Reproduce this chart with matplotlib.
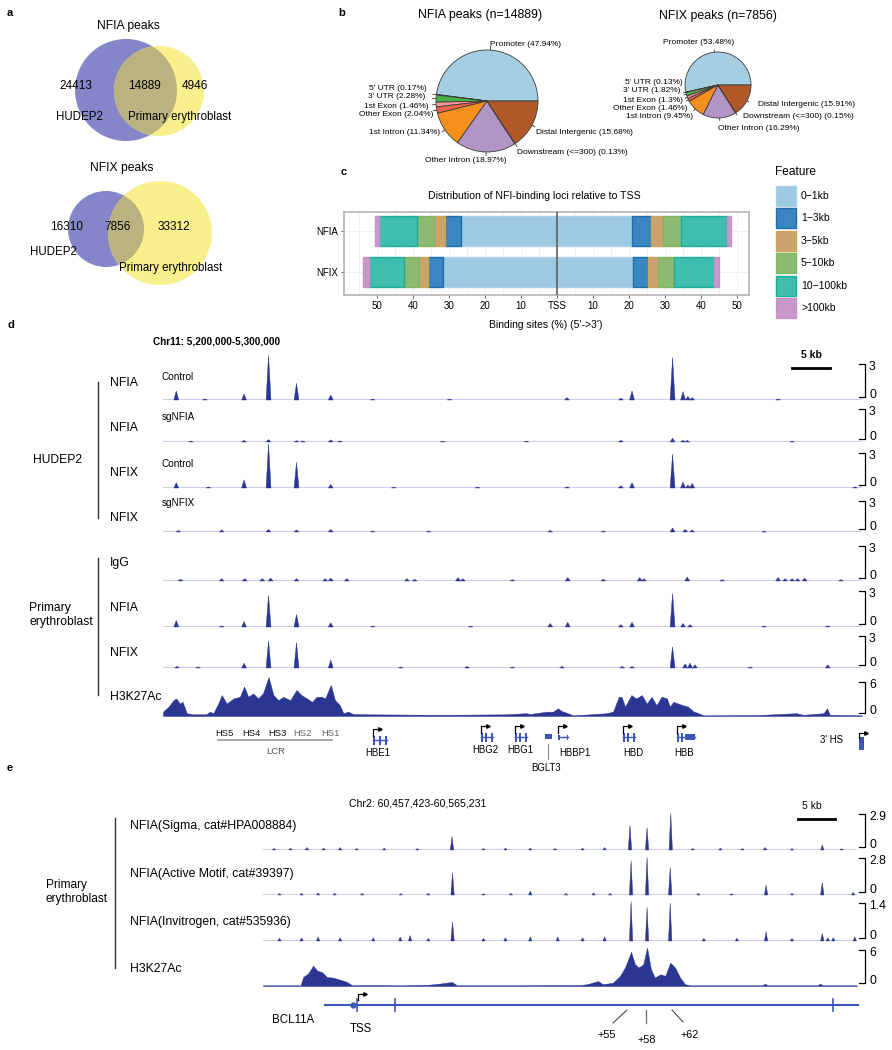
import numpy as np
import matplotlib
matplotlib.use('Agg')
import matplotlib.pyplot as plt
from matplotlib.patches import Circle, Rectangle

plt.rcParams['font.family'] = ['Liberation Sans', 'DejaVu Sans']

W, H = 892, 1050

# ---------------- data ----------------
# a: venn counts (HUDEP2 only, shared, primary only)
venn_sets = ['HUDEP2', 'Primary erythroblast']
nfia_venn = [24413, 14889, 4946]
nfix_venn = [16310, 7856, 33312]

# b: peak annotation (%)
anno_features = ['Promoter', "5' UTR", "3' UTR", '1st Exon', 'Other Exon',
                 '1st Intron', 'Other Intron', 'Downstream (<=300)', 'Distal Intergenic']
nfia_anno = [47.94, 0.17, 2.28, 1.46, 2.04, 11.34, 18.97, 0.13, 15.68]
nfix_anno = [53.48, 0.13, 1.82, 1.3, 1.46, 9.45, 16.29, 0.15, 15.91]
nfia_n = 14889
nfix_n = 7856

# c: distance to TSS (% of binding sites)
tss_bins = ['0\u22121kb', '1\u22123kb', '3\u22125kb', '5\u221210kb', '10\u2212100kb', '>100kb']
tss_groups = ['NFIA', 'NFIX']
nfia_up = [26.7, 4.5, 2.9, 4.7, 10.8, 1.0]
nfia_down = [20.8, 5.3, 3.3, 4.9, 12.8, 1.2]
nfix_up = [31.7, 4.1, 2.5, 4.3, 9.7, 1.6]
nfix_down = [21.1, 4.2, 2.8, 4.3, 11.1, 1.5]

# d: chr11 5,200,000-5,300,000 (kb from start), peak summits and heights
d_span = 100.0
hd_nfia_ctrl_pos = [1.9, 6.0, 11.6, 15.1, 19.1, 24.0, 30.0, 41.0, 57.8, 65.5, 67.1, 72.9, 74.4, 75.1, 75.7, 88.0]
hd_nfia_ctrl_h = [0.75, 0.08, 0.5, 3.75, 1.4, 0.4, 0.08, 0.08, 0.2, 0.15, 0.75, 3.55, 0.7, 0.3, 0.2, 0.08]
hd_nfia_sg_pos = [4.0, 11.6, 15.1, 19.1, 20.0, 24.0, 25.3, 40.0, 52.0, 65.5, 72.9, 74.4, 75.0, 90.0]
hd_nfia_sg_h = [0.08, 0.15, 0.22, 0.12, 0.1, 0.2, 0.1, 0.08, 0.08, 0.15, 0.36, 0.15, 0.15, 0.08]
hd_nfix_ctrl_pos = [1.9, 6.5, 11.6, 15.1, 19.1, 24.0, 33.0, 45.0, 57.8, 65.5, 67.1, 72.9, 74.4, 75.1, 75.7, 99.0]
hd_nfix_ctrl_h = [0.45, 0.1, 0.7, 3.8, 2.2, 0.3, 0.08, 0.08, 0.1, 0.2, 0.45, 2.9, 0.5, 0.25, 0.4, 0.1]
hd_nfix_sg_pos = [2.2, 8.4, 15.1, 19.1, 24.0, 30.0, 38.0, 55.4, 63.0, 72.9, 74.7, 75.7, 86.0]
hd_nfix_sg_h = [0.15, 0.2, 0.25, 0.2, 0.25, 0.1, 0.1, 0.15, 0.1, 0.4, 0.25, 0.2, 0.08]
pe_igg_pos = [2.5, 8.4, 11.7, 14.2, 15.4, 19.1, 23.2, 24.0, 26.3, 34.9, 36.0, 42.2, 42.9, 50.0,
              57.9, 63.0, 68.2, 68.8, 75.0, 80.0, 88.0, 89.0, 90.0, 90.8, 91.8, 97.0]
pe_igg_h = [0.15, 0.2, 0.2, 0.2, 0.25, 0.2, 0.2, 0.25, 0.2, 0.2, 0.15, 0.3, 0.2, 0.12,
            0.3, 0.15, 0.3, 0.2, 0.35, 0.12, 0.3, 0.2, 0.2, 0.2, 0.25, 0.12]
pe_nfia_pos = [1.9, 8.4, 11.6, 15.1, 19.1, 24.0, 30.0, 44.0, 55.4, 57.9, 65.5, 67.1, 72.9, 74.4, 75.4, 86.0, 95.1]
pe_nfia_h = [0.55, 0.1, 0.45, 2.65, 1.05, 0.35, 0.08, 0.08, 0.3, 0.4, 0.2, 0.4, 2.8, 0.3, 0.2, 0.08, 0.1]
pe_nfix_pos = [2.0, 5.0, 11.6, 15.1, 19.1, 24.0, 34.0, 43.5, 50.0, 57.1, 65.7, 67.1, 72.9, 74.7, 75.4, 76.1, 84.0, 95.1]
pe_nfix_h = [0.15, 0.1, 0.45, 2.55, 2.4, 0.75, 0.1, 0.15, 0.1, 0.15, 0.15, 0.15, 2.0, 0.4, 0.45, 0.3, 0.1, 0.3]
pe_h3_kb = [0.0, 0.8, 1.5, 1.9, 2.4, 2.8, 3.4, 4.3, 6.2, 6.7, 7.2, 7.9, 8.4, 9.1, 10.1, 11.0, 11.6, 12.2,
            12.9, 13.6, 14.3, 15.1, 15.8, 16.5, 17.2, 18.2, 19.1, 19.8, 20.6, 21.3, 22.0, 22.7, 23.2, 24.0,
            24.6, 25.3, 25.8, 26.5, 27.2, 29.1, 40.0, 49.2, 52.0, 52.5, 53.9, 54.9, 55.8, 56.5, 57.0, 57.7,
            58.7, 61.1, 63.5, 64.4, 65.2, 65.6, 66.1, 67.0, 67.7, 68.5, 69.2, 69.9, 70.6, 71.3, 72.1, 72.5,
            73.0, 73.7, 74.4, 75.1, 75.9, 76.6, 77.3, 85.0, 90.6, 91.6, 94.5, 95.0, 95.4, 100.0]
pe_h3_val = [0.77, 1.65, 2.8, 3.1, 2.2, 2.5, 0.5, 0.3, 0.3, 0.77, 0.5, 2.2, 3.7, 2.2, 3.1, 3.4, 5.2, 3.4,
             4.0, 3.1, 4.0, 6.9, 3.7, 2.8, 3.4, 2.8, 4.6, 3.7, 3.1, 2.5, 3.4, 3.4, 3.1, 5.5,
             2.8, 1.9, 0.5, 0.77, 0.35, 0.3, 0.2, 0.3, 0.5, 0.35, 0.6, 0.77, 0.77, 1.35, 0.9, 0.6,
             0.1, 0.3, 0.5, 0.8, 3.4, 3.4, 1.65, 3.7, 3.1, 3.7, 2.2, 3.4, 1.9, 3.4, 3.1, 1.65,
             2.5, 2.2, 1.9, 1.65, 0.8, 0.5, 0.1, 0.15, 0.5, 0.2, 0.5, 1.35, 0.2, 0.1]

# e: chr2 60,457,423-60,565,231 (kb from start)
e_span = 107.8
e_sigma_pos = [2.0, 5.0, 8.0, 11.0, 14.0, 17.0, 22.0, 28.0, 34.3, 40.0, 44.0, 48.5, 53.0, 58.0, 62.0,
               66.6, 69.7, 74.0, 78.0, 83.0, 87.0, 91.1, 96.0, 101.5, 105.0]
e_sigma_h = [0.12, 0.15, 0.2, 0.15, 0.2, 0.12, 0.15, 0.12, 1.1, 0.12, 0.15, 0.15, 0.12, 0.15, 0.2,
             2.0, 1.8, 2.95, 0.12, 0.15, 0.12, 0.2, 0.12, 0.4, 0.1]
e_am_pos = [3.0, 7.0, 10.0, 13.0, 18.0, 25.0, 30.0, 34.4, 40.0, 45.0, 48.5, 55.0, 60.0, 63.0,
            66.8, 69.7, 73.9, 79.0, 85.0, 91.3, 96.0, 101.5, 107.1]
e_am_h = [0.1, 0.12, 0.15, 0.12, 0.12, 0.1, 0.12, 1.7, 0.1, 0.12, 0.3, 0.12, 0.15, 0.12,
          2.6, 2.85, 2.1, 0.12, 0.1, 0.75, 0.12, 0.95, 0.2]
e_inv_pos = [3.0, 7.0, 10.0, 14.0, 20.0, 24.9, 26.7, 30.0, 34.4, 40.0, 44.0, 48.5, 53.5, 58.0, 62.0,
             66.8, 69.7, 73.9, 80.0, 86.0, 91.3, 96.0, 101.5, 102.5, 103.5, 107.4]
e_inv_h = [0.1, 0.12, 0.15, 0.12, 0.12, 0.15, 0.2, 0.1, 0.71, 0.1, 0.12, 0.15, 0.15, 0.12, 0.15,
           1.46, 1.24, 1.4, 0.1, 0.1, 0.34, 0.1, 0.28, 0.12, 0.12, 0.15]
e_h3_kb = [0.0, 6.8, 7.3, 8.2, 9.1, 9.8, 10.7, 11.6, 12.7, 14.0, 15.2, 16.2, 18.9, 25.0, 30.0, 32.1,
           34.3, 35.2, 44.3, 57.5, 58.8, 60.8, 61.7, 63.5, 64.8, 65.7, 66.8, 67.5, 68.2, 69.0, 69.7,
           70.4, 71.1, 72.1, 73.0, 73.9, 74.8, 75.7, 76.6, 77.5, 90.6, 91.1, 91.6, 100.6, 101.1, 101.6, 107.8]
e_h3_val = [0.1, 0.1, 1.5, 2.1, 3.4, 2.6, 2.3, 1.5, 1.4, 1.05, 0.7, 0.1, 0.15, 0.1, 0.2, 0.4,
            0.67, 0.1, 0.1, 0.15, 0.3, 0.83, 0.3, 0.55, 1.7, 3.1, 5.7, 3.6, 3.1, 3.6, 6.4,
            2.8, 1.4, 1.95, 1.7, 3.9, 3.05, 1.4, 0.3, 0.1, 0.1, 0.4, 0.1, 0.1, 0.4, 0.1, 0.1]

# ---------------- styles ----------------
NAVY = '#2b3592'
BASE = '#cfd0ec'
GENE = '#3c55b8'
PIE_COLS = ['#a6cee3', '#1f78b4', '#4aae47', '#fb9a99', '#ec6449', '#f7901e', '#b294c7', '#6a3d9a', '#b15928']
BIN_FC = ['#9ecae1', '#3a86c0', '#c9a46c', '#8cba72', '#40bfae', '#c898c8']
BIN_EC = ['#a9d0e6', '#1f6fb0', '#d0a458', '#80b660', '#1fae9a', '#c890c8']

fig = plt.figure(figsize=(W / 100, H / 100), dpi=100)
ov = fig.add_axes([0, 0, 1, 1])
ov.set_xlim(0, W)
ov.set_ylim(H, 0)
ov.axis('off')


def box(x0, y0, x1, y1):
    return fig.add_axes([x0 / W, 1 - y1 / H, (x1 - x0) / W, (y1 - y0) / H])


def t(x, y, s, size=8, ha='left', va='center', **kw):
    ov.text(x, y, s, fontsize=size, ha=ha, va=va, **kw)


# panel letters
for lab, x, y in [('a', 7, 13), ('b', 338, 13), ('c', 341, 172), ('d', 7, 325), ('e', 7, 768)]:
    t(x, y, lab, size=8, weight='bold')

# ---------------- a: venn ----------------
def venn(c1, r1, c2, r2):
    p1 = Circle(c1, r1, fc='#8586c9', ec='none')
    p2 = Circle(c2, r2, fc='#f8f08d', ec='none')
    ov.add_patch(p1)
    ov.add_patch(p2)
    p3 = Circle(c1, r1, fc='#bab37f', ec='none')
    ov.add_patch(p3)
    p3.set_clip_path(p2)


venn((126, 90), 51, (159, 91), 45)
t(128, 26, 'NFIA peaks', size=8.7, ha='center')
for v, x in zip(nfia_venn, [76, 144, 195]):
    t(x, 86, str(v), size=8.5, ha='center')
t(79, 117, venn_sets[0], size=8.3, ha='center')
t(128, 117, venn_sets[1], size=8.3)

venn((106, 229), 38, (160, 233), 52)
t(122, 168, 'NFIX peaks', size=8.7, ha='center')
for v, x in zip(nfix_venn, [67, 118, 174]):
    t(x, 227, str(v), size=8.5, ha='center')
t(53, 252, venn_sets[0], size=8.3, ha='center')
t(119, 268, venn_sets[1], size=8.3)

# ---------------- b: pies ----------------
def pie(cx, cy, r, vals, spots):
    m = 1.08
    ax = box(cx - r * m, cy - r * m, cx + r * m, cy + r * m)
    ax.pie(vals, colors=PIE_COLS, startangle=0, counterclock=True,
           wedgeprops=dict(ec='#3a3a3a', lw=0.6))
    ax.set_xlim(-m, m)
    ax.set_ylim(-m, m)
    ax.set_aspect('equal')
    cum = np.cumsum(vals) - np.array(vals) / 2
    for name, v, c, (x, y, ha) in zip(anno_features, vals, cum, spots):
        th = 2 * np.pi * c / 100
        ov.plot([cx + r * np.cos(th), cx + 1.07 * r * np.cos(th)],
                [cy - r * np.sin(th), cy - 1.07 * r * np.sin(th)], color='#333333', lw=0.6)
        t(x, y, f'{name} ({v:g}%)', size=6, ha=ha)


pie(487, 101, 51, nfia_anno,
    [(490, 44, 'left'), (427, 89, 'right'), (425, 96, 'right'), (429, 107, 'right'),
     (433, 114, 'right'), (440, 132, 'right'), (466, 160, 'center'), (517, 153, 'left'),
     (536, 132, 'left')])
t(480, 15, f'NFIA peaks (n={nfia_n})', size=8.9, ha='center')

pie(718, 85, 33, nfix_anno,
    [(663, 43, 'left'), (683, 83, 'right'), (680, 91, 'right'), (683, 100, 'right'),
     (687, 108, 'right'), (693, 117, 'right'), (718, 128, 'left'), (743, 117, 'left'),
     (758, 104, 'left')])
t(718, 16, f'NFIX peaks (n={nfix_n})', size=8.9, ha='center')

# ---------------- c: distance to TSS ----------------
axc = box(344, 212, 749, 295)
ypos = {'NFIA': 2, 'NFIX': 1}
for g, up, down in [('NFIA', nfia_up, nfia_down), ('NFIX', nfix_up, nfix_down)]:
    up_left = np.concatenate([[0], np.cumsum(up)[:-1]])
    down_left = np.concatenate([[0], np.cumsum(down)[:-1]])
    for i in range(len(tss_bins)):
        axc.barh(ypos[g], -up[i], left=-up_left[i], height=0.72, color=BIN_FC[i],
                 edgecolor=BIN_EC[i], lw=1.0, zorder=3)
        axc.barh(ypos[g], down[i], left=down_left[i], height=0.72, color=BIN_FC[i],
                 edgecolor=BIN_EC[i], lw=1.0, zorder=3)
axc.axvline(0, color='#555555', lw=1.1, zorder=4)
axc.set_xlim(-59.2, 53.3)
axc.set_ylim(0.44, 2.46)
ticks = [-50, -40, -30, -20, -10, 0, 10, 20, 30, 40, 50]
axc.set_xticks(ticks, [str(abs(v)) if v else 'TSS' for v in ticks])
axc.set_xticks([-55, -45, -35, -25, -15, -5, 5, 15, 25, 35, 45], minor=True)
axc.set_yticks([ypos[g] for g in tss_groups], tss_groups)
axc.tick_params(labelsize=7, length=2.5, width=0.6, color='#444444', pad=2)
axc.tick_params(which='minor', length=0)
axc.grid(True, which='both', color='#eeeeee', lw=0.6)
axc.set_axisbelow(True)
for s in axc.spines.values():
    s.set_color('#b5b5b5')
    s.set_linewidth(1.2)
t(534, 196, 'Distribution of NFI-binding loci relative to TSS', size=7.6, ha='center')
t(546, 325, "Binding sites (%) (5'->3')", size=7.5, ha='center')
t(775, 172, 'Feature', size=8.6)
for i, lab in enumerate(tss_bins):
    cy = 196 + i * 22.4
    ov.add_patch(Rectangle((776, cy - 10), 20, 20, fc=BIN_FC[i], ec=BIN_EC[i], lw=1.0))
    t(801, cy, lab, size=7.5)

# ---------------- tracks ----------------
def track(x0, x1, top, base, span, ymax, lab, pos=None, hgt=None, kb=None, val=None, half=0.35):
    ax = box(x0, top, x1, base)
    ax.set_xlim(0, span)
    ax.set_ylim(0, ymax)
    ax.axis('off')
    ax.axhline(0, color=BASE, lw=1.6, zorder=1)
    if pos is not None:
        for p, h in zip(pos, hgt):
            ax.fill([p - half, p, p + half], [0, h, 0], color=NAVY, lw=0.3, clip_on=False, zorder=2)
    if kb is not None:
        ax.fill_between(kb, val, color=NAVY, lw=0.3, clip_on=False, zorder=2)
    ov.plot([859, 865, 865, 859], [top, top, base - 3, base - 3], color='k', lw=0.9)
    t(869, top + 3, lab, size=8.8)
    t(869, base - 5, '0', size=8.8)


# panel d
d_rows = [
    (364, 400, 3, hd_nfia_ctrl_pos, hd_nfia_ctrl_h, None, None),
    (409, 442, 3, hd_nfia_sg_pos, hd_nfia_sg_h, None, None),
    (453, 488, 3, hd_nfix_ctrl_pos, hd_nfix_ctrl_h, None, None),
    (501, 532, 3, hd_nfix_sg_pos, hd_nfix_sg_h, None, None),
    (546, 581, 3, pe_igg_pos, pe_igg_h, None, None),
    (591, 627, 3, pe_nfia_pos, pe_nfia_h, None, None),
    (636, 668, 3, pe_nfix_pos, pe_nfix_h, None, None),
    (682, 716, 6, None, None, pe_h3_kb, pe_h3_val),
]
for top, base, ym, p, h, kx, kv in d_rows:
    track(163, 862, top, base, d_span, ym, str(ym), p, h, kx, kv)

t(153, 342, 'Chr11: 5,200,000-5,300,000', size=7.2, weight='bold')
ov.plot([792, 830], [368, 368], color='k', lw=2)
t(811, 355, '5 kb', size=7.5, ha='center', weight='bold')
for s, y in [('NFIA', 383), ('NFIA', 428), ('NFIX', 473), ('NFIX', 518),
             ('IgG', 563), ('NFIA', 608), ('NFIX', 653), ('H3K27Ac', 697)]:
    t(110, y, s, size=8.8)
for s, y in [('Control', 377), ('sgNFIA', 417), ('Control', 464), ('sgNFIX', 503)]:
    t(162, y, s, size=7.2)
ov.plot([98, 98], [382, 518], color='#333333', lw=1)
ov.plot([98, 98], [558, 695], color='#333333', lw=1)
t(33, 460, 'HUDEP2', size=8.7)
t(29, 608, 'Primary', size=8.7)
t(29, 622, 'erythroblast', size=8.7)

# LCR
for s, x, c in [('HS5', 224, '#111111'), ('HS4', 251, '#111111'), ('HS3', 277, '#111111'),
                ('HS2', 303, '#666666'), ('HS1', 330, '#666666')]:
    t(x, 733, s, size=6.8, ha='center', color=c)
ov.plot([218, 332], [740, 740], color='#999999', lw=1.2)
t(276, 751, 'LCR', size=6.8, ha='center', color='#555555')


def tss_arrow(x, y0, y1, length=7):
    ov.plot([x, x, x + length], [y0, y1, y1], color='k', lw=0.9)
    ov.plot(x + length, y1, marker='>', ms=2.5, color='k')


def gene(x0, x1, y, exons, label=None, lx=None, ly=753):
    ov.plot([x0, x1], [y, y], color=GENE, lw=1.0)
    for ex0, ex1, hh in exons:
        ov.add_patch(Rectangle((ex0, y - hh / 2), ex1 - ex0, hh, fc=GENE, ec='none'))
    tss_arrow(x0, y - 4, y - 11)
    if label:
        t(lx if lx is not None else (x0 + x1) / 2, ly, label, size=6.9, ha='center')


gene(373, 387, 740, [(373, 375, 9), (379, 381, 9), (385, 387, 9)], 'HBE1', 378, 753)
gene(481, 493, 737, [(481, 483, 9), (485, 487, 9), (491, 493, 9)], 'HBG2', 485, 750)
gene(515, 527, 737, [(515, 517, 9), (519, 521, 9), (525, 527, 9)], 'HBG1', 520, 750)
ov.add_patch(Rectangle((545, 734), 7, 5, fc=GENE, ec='none'))
ov.plot([548, 548], [744, 759], color='#888888', lw=0.8)
t(546, 768, 'BGLT3', size=6.9, ha='center')
gene(558, 568, 737, [(558, 559.5, 5), (566.5, 568, 5)], 'HBBP1', 575, 753)
gene(623, 635, 737, [(623, 625, 9), (627, 629, 9), (633, 635, 9)], 'HBD', 633, 753)
gene(677, 695, 737, [(677, 679, 9), (681, 683, 9), (685, 695, 6)], 'HBB', 684, 753)
t(832, 740, "3' HS", size=6.9, ha='center')
ov.add_patch(Rectangle((859, 737), 5, 13, fc=GENE, ec='none'))
tss_arrow(859, 738, 733, 7)

# panel e
e_rows = [
    (814, 850, '2.9', 2.9, e_sigma_pos, e_sigma_h, None, None),
    (858, 895, '2.8', 2.8, e_am_pos, e_am_h, None, None),
    (903, 941, '1.4', 1.4, e_inv_pos, e_inv_h, None, None),
    (950, 986, '6', 6, None, None, e_h3_kb, e_h3_val),
]
for top, base, lab, ym, p, h, kx, kv in e_rows:
    track(263, 857, top, base, e_span, ym, lab, p, h, kx, kv, half=0.3)

t(349, 803, 'Chr2: 60,457,423-60,565,231', size=7.6)
ov.plot([798, 835], [819, 819], color='k', lw=2)
t(812, 806, '5 kb', size=7.5, ha='center')
for s, y in [('NFIA(Sigma, cat#HPA008884)', 826), ('NFIA(Active Motif, cat#39397)', 874),
             ('NFIA(Invitrogen, cat#535936)', 922), ('H3K27Ac', 969)]:
    t(130, y, s, size=8.8)
ov.plot([115, 115], [818, 968], color='#333333', lw=1)
t(46, 885, 'Primary', size=8.6)
t(46, 899, 'erythroblast', size=8.6)

# BCL11A
ov.plot([325, 858], [1005, 1005], color=GENE, lw=1.5)
ov.plot(353, 1005, marker='o', ms=3.5, color=GENE)
for x in [357, 395, 833]:
    ov.plot([x, x], [999, 1011], color=GENE, lw=1.2)
tss_arrow(358, 1000, 994, 7)
t(293, 1020, 'BCL11A', size=8.3, ha='center')
t(361, 1029, 'TSS', size=8.3, ha='center')
ov.plot([613, 627], [1023, 1010], color='#333333', lw=0.7)
ov.plot([646, 646], [1010, 1023], color='#777777', lw=1.0)
ov.plot([672, 683], [1010, 1022], color='#333333', lw=0.7)
t(607, 1035, '+55', size=7.8, ha='center')
t(647, 1040, '+58', size=7.8, ha='center')
t(690, 1035, '+62', size=7.8, ha='center')

fig.savefig('out.png', dpi=100)
